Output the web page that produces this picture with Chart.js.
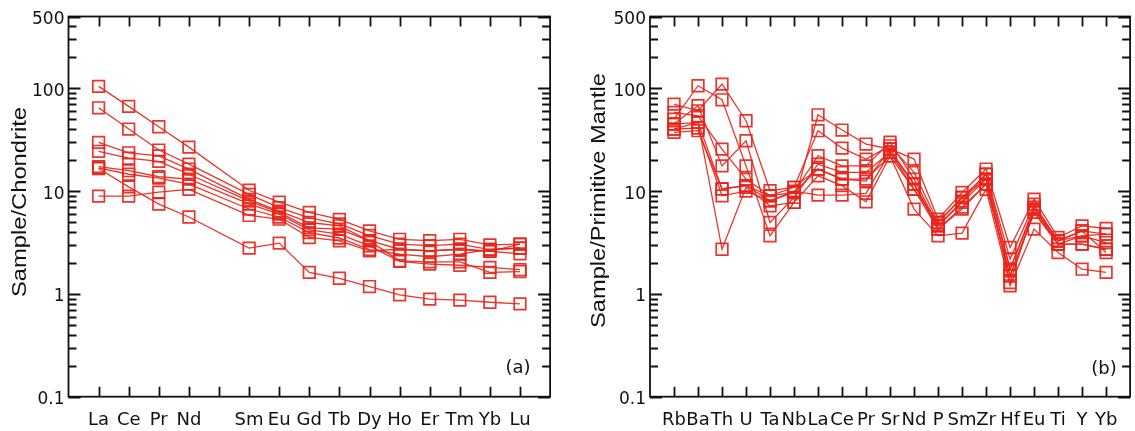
<!DOCTYPE html>
<html>
<head>
<meta charset="utf-8">
<script src="https://cdn.jsdelivr.net/npm/chart.js@4.4.1/dist/chart.umd.min.js"></script>
<style>
  html, body { margin: 0; padding: 0; background: #fff; overflow: hidden; width: 1135px; height: 431px; }
  #left { position: absolute; left: 0; top: 0; }
  #right { position: absolute; left: 565px; top: 0; }
</style>
</head>
<body>
<canvas id="left" width="560" height="431"></canvas>
<canvas id="right" width="575" height="431"></canvas>
<script>
// (a) chondrite normalised REE, blank slot is Pm
const reeLabels = ['La','Ce','Pr','Nd','','Sm','Eu','Gd','Tb','Dy','Ho','Er','Tm','Yb','Lu'];
const reeA = [104.5, 66.8, 42.3, 26.8, null, 10.2, 7.8, 6.2, 5.3, 4.1, 3.4, 3.3, 3.4, 3.0, 3.05];
const reeB = [64.7, 40.2, 25.1, 18.3, null, 9.3, 6.9, 5.5, 4.8, 3.7, 3.05, 2.95, 3.05, 2.7, 2.8];
const reeC = [29.8, 23.6, 22.0, 16.4, null, 8.3, 6.4, 4.95, 4.6, 3.3, 2.72, 2.62, 2.72, 2.6, 2.45];
const reeD = [24.4, 20.9, 19.5, 14.6, null, 8.0, 6.2, 4.4, 4.27, 3.28, 2.1, 2.05, 2.05, 1.62, 1.65];
const reeE = [17.3, 15.8, 13.8, 13.1, null, 7.5, 5.98, 4.2, 3.81, 2.93, 2.07, 1.95, 1.9, 1.81, 1.72];
const reeF = [16.8, 14.6, 13.4, 11.7, null, 6.7, 5.6, 3.95, 3.5, 2.7, 2.44, 2.3, 2.44, 2.72, 2.78];
const reeG = [16.6, 11.0, 7.47, 5.6, null, 2.79, 3.12, 1.62, 1.42, 1.18, 0.98, 0.89, 0.87, 0.83, 0.80];
const reeH = [8.94, 8.94, 9.77, 10.4, null, 5.8, 5.33, 3.54, 3.28, 2.62, 2.72, 2.62, 2.72, 2.59, 3.05];

// (b) primitive mantle normalised trace elements
const spiderLabels = ['Rb','Ba','Th','U','Ta','Nb','La','Ce','Pr','Sr','Nd','P','Sm','Zr','Hf','Eu','Ti','Y','Yb'];
const pm1 = [50.2, 106, 77.4, 17.6, 3.67, 7.76, 55.3, 39.3, 28.7, 25.7, 20.5, 5.33, 9.7, 16.4, 2.83, 8.36, 3.54, 4.59, 4.33];
const pm2 = [70.3, 60.5, 110, 48.4, 10.1, 10.9, 38.7, 26.2, 20.5, 27.6, 15.2, 4.96, 8.68, 14.6, 2.18, 7.46, 3.28, 4.1, 3.81];
const pm3 = [58.4, 54.1, 25.6, 13.1, 9.0, 9.7, 22.1, 17.6, 17.6, 29.9, 13.1, 4.59, 7.76, 13.1, 1.74, 6.68, 3.05, 3.67, 3.16];
const pm4 = [44.9, 67.7, 17.6, 30.9, 4.96, 8.68, 18.3, 15.2, 15.2, 24.0, 11.7, 4.27, 6.68, 11.7, 1.5, 6.2, 3.05, 3.05, 2.72];
const pm5 = [40.2, 46.7, 10.5, 11.3, 8.05, 9.7, 16.4, 13.1, 13.1, 22.0, 10.4, 4.96, 8.68, 13.1, 1.29, 6.68, 3.28, 4.1, 2.53];
const pm6 = [44.9, 46.7, 2.72, 10.9, 7.19, 7.76, 14.1, 11.3, 7.87, 22.0, 6.68, 3.67, 3.9, 10.4, 1.2, 4.27, 2.53, 1.74, 1.62];
const pm7 = [40.2, 41.0, 9.0, 10.0, 8.05, 10.0, 9.15, 9.15, 9.5, 24.0, 10.4, 4.27, 7.0, 11.7, 1.5, 6.2, 3.05, 3.05, 2.72];
const pm8 = [37.3, 38.7, 10.5, 11.3, 9.0, 10.9, 16.4, 13.1, 12.5, 25.7, 11.7, 4.59, 8.0, 14.6, 1.74, 7.0, 3.28, 3.67, 3.81];

const yTickLabels = [0.1, 1, 10, 100, 500];
const yMin = 0.1, yMax = 500;

// minor tick positions 1..9 per decade
const yMinor = [];
[0.1, 1, 10, 100].forEach(d => {
  for (let k = 1; k <= 9; k++) {
    const v = +(k * d).toPrecision(3);
    if (v <= yMax) yMinor.push(v);
  }
});

const RED = 'rgba(232, 36, 26, 0.92)';
const INK = '#111';

function toSets(list) {
  return list.map(vals => ({
    data: vals.map((v, i) => ({ x: i, y: v })),
    borderColor: RED,
    borderWidth: 1.3,
    pointStyle: 'rect',
    pointRadius: 8.2,
    pointBorderWidth: 1.7,
    pointBorderColor: RED,
    pointBackgroundColor: 'rgba(0,0,0,0)',
    spanGaps: true,
    tension: 0
  }));
}

// frame, inward ticks, stretched axis title and panel tag
const frame = {
  id: 'frame',
  afterDraw(chart, args, o) {
    const { ctx, chartArea: a, scales: { x, y } } = chart;
    ctx.save();
    ctx.strokeStyle = INK;
    ctx.lineWidth = 1.8;
    ctx.strokeRect(a.left, a.top, a.right - a.left, a.bottom - a.top);
    ctx.beginPath();
    o.labels.forEach((l, i) => {
      const px = Math.round(x.getPixelForValue(i)) + 0.5;
      ctx.moveTo(px, a.bottom); ctx.lineTo(px, a.bottom - 10);
      ctx.moveTo(px, a.top); ctx.lineTo(px, a.top + 10);
    });
    yMinor.forEach(v => {
      const py = Math.round(y.getPixelForValue(v)) + 0.5;
      const len = yTickLabels.includes(v) ? 12 : 8;
      ctx.moveTo(a.left, py); ctx.lineTo(a.left + len, py);
      ctx.moveTo(a.right, py); ctx.lineTo(a.right - len, py);
    });
    ctx.stroke();

    ctx.fillStyle = INK;
    ctx.textAlign = 'center';
    ctx.textBaseline = 'middle';
    ctx.font = '20px "Liberation Sans", Arial, sans-serif';
    const w = ctx.measureText(o.title).width;
    ctx.save();
    ctx.translate(o.titleX, o.titleY);
    ctx.rotate(-Math.PI / 2);
    ctx.scale(o.titleLen / w, 1);
    ctx.fillText(o.title, 0, 0);
    ctx.restore();

    ctx.font = '18px "DejaVu Sans", sans-serif';
    ctx.fillText(o.tag, o.tagX, o.tagY);
    ctx.restore();
  }
};

function makeChart(id, labels, series, yWidth, padRight, frameOpts) {
  return new Chart(document.getElementById(id), {
    type: 'line',
    data: { datasets: toSets(series) },
    options: {
      responsive: false,
      animation: false,
      events: [],
      layout: { padding: { top: 16.5, right: padRight, left: 0, bottom: 0 } },
      plugins: {
        legend: { display: false },
        tooltip: { enabled: false },
        frame: Object.assign({ labels: labels }, frameOpts)
      },
      scales: {
        x: {
          type: 'linear',
          min: -1,
          max: labels.length,
          grid: { display: false, drawTicks: false },
          border: { display: false },
          afterBuildTicks: s => { s.ticks = labels.map((_, i) => ({ value: i })); },
          afterFit: s => { s.height = 34.3; },
          ticks: {
            autoSkip: false,
            maxRotation: 0,
            padding: 13,
            color: INK,
            font: { family: '"DejaVu Sans", sans-serif', size: 18 },
            callback: v => labels[v] || ''
          }
        },
        y: {
          type: 'logarithmic',
          min: yMin,
          max: yMax,
          grid: { display: false, drawTicks: false },
          border: { display: false },
          afterBuildTicks: s => { s.ticks = yTickLabels.map(v => ({ value: v })); },
          afterFit: s => { s.width = yWidth; },
          ticks: {
            padding: 4,
            labelOffset: 3,
            color: INK,
            font: { family: '"DejaVu Sans", sans-serif', size: 17 },
            callback: v => String(v)
          }
        }
      }
    },
    plugins: [frame]
  });
}

makeChart('left', reeLabels,
  [reeA, reeB, reeC, reeD, reeE, reeF, reeG, reeH],
  68.5, 4,
  { title: 'Sample/Chondrite', titleX: 20, titleY: 202, titleLen: 190, tag: '(a)', tagX: 518, tagY: 368 });

makeChart('right', spiderLabels,
  [pm1, pm2, pm3, pm4, pm5, pm6, pm7, pm8],
  85, 1,
  { title: 'Sample/Primitive Mantle', titleX: 34, titleY: 200.5, titleLen: 255, tag: '(b)', tagX: 539, tagY: 369 });
</script>
</body>
</html>
